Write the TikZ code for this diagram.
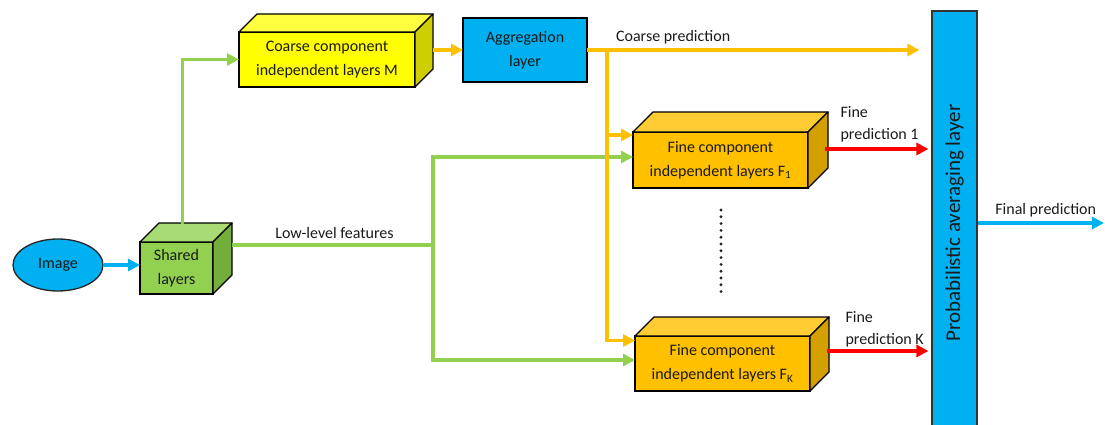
\documentclass[tikz,border=0pt]{standalone}
\usepackage{fontspec}
\setmainfont{Carlito}
\usetikzlibrary{arrows.meta,shapes.geometric}
\definecolor{cblue}{HTML}{00B0F0}
\definecolor{cgreen}{HTML}{92D050}
\definecolor{cgreentop}{HTML}{A9DB74}
\definecolor{cgreenside}{HTML}{74AE3A}
\definecolor{cyel}{HTML}{FFFF00}
\definecolor{cyeltop}{HTML}{FFFF40}
\definecolor{cyelside}{HTML}{CFCF00}
\definecolor{corange}{HTML}{FFC000}
\definecolor{corangetop}{HTML}{FFCC33}
\definecolor{corangeside}{HTML}{D4A000}
\definecolor{cred}{HTML}{FF0000}
\definecolor{txt}{HTML}{1A1A1A}
\tikzset{
  lbl/.style={font=\fontsize{16}{22}\selectfont, text=txt},
  face/.style={draw=black, line width=1.3pt, outer sep=0pt, inner sep=2pt, align=center,
    font=\fontsize{16}{24}\selectfont, text=txt},
  conn/.style={line width=3.2pt, -{Triangle[length=12pt,width=12pt]}},
  plainline/.style={line width=3.2pt},
}
\newcommand\cubesides[4]{%
  \filldraw[fill=#3, draw=black, line width=1.3pt, line join=round]
    (#1.north west) -- ([shift={(#2,-#2)}]#1.north west) -- ([shift={(#2,-#2)}]#1.north east) -- (#1.north east) -- cycle;
  \filldraw[fill=#4, draw=black, line width=1.3pt, line join=round]
    (#1.north east) -- ([shift={(#2,-#2)}]#1.north east) -- ([shift={(#2,-#2)}]#1.south east) -- (#1.south east) -- cycle;
}
\begin{document}
\begin{tikzpicture}[x=1pt,y=-1pt]
\useasboundingbox (0,0) rectangle (1105,425);

% nodes
\node[ellipse, draw=black!85, line width=1.3pt, fill=cblue, minimum width=90pt, minimum height=52pt,
      inner sep=0pt, font=\fontsize{16}{20}\selectfont, text=txt] (img) at (58,265) {Image};

\node[face, fill=cgreen, minimum width=73pt, minimum height=52pt] (shared) at (176.5,268) {Shared\\layers};
\cubesides{shared}{19}{cgreentop}{cgreenside}

\node[face, fill=cyel, minimum width=176pt, minimum height=55pt] (coarse) at (327,59.5) {Coarse component\\independent layers M};
\cubesides{coarse}{18}{cyeltop}{cyelside}

\node[face, fill=cblue, minimum width=124pt, minimum height=64pt] (agg) at (525,50) {Aggregation\\layer};

\node[face, fill=corange, minimum width=175pt, minimum height=56pt] (f1) at (720.5,160) {Fine component\\independent layers F\textsubscript{1}};
\cubesides{f1}{20}{corangetop}{corangeside}

\node[face, fill=corange, minimum width=175pt, minimum height=55pt] (fk) at (722.5,363.5) {Fine component\\independent layers F\textsubscript{K}};
\cubesides{fk}{19}{corangetop}{corangeside}

\node[draw=black!80, line width=1.1pt, fill=cblue, rotate=90, minimum width=424pt, minimum height=45pt,
      inner sep=0pt, font=\fontsize{21}{24}\selectfont, text=txt] (prob) at (954.5,223) {Probabilistic averaging layer};

% helper coordinates
\coordinate (sharedtop) at ([shift={(6,-18)}]shared.north);
\coordinate (sharedside) at ([shift={(19,-23)}]shared.east);
\coordinate (lowsplit) at (433,245);
\coordinate (coarseback) at ([xshift=18pt]coarse.east);
\coordinate (osplit) at (607,50);
\coordinate (f1out) at ([shift={(17,-11)}]f1.east);
\coordinate (fkout) at ([shift={(17,-12.5)}]fk.east);
\coordinate (dotstop) at (721,210);
\coordinate (dotsbot) at (721,298);

% connectors
\draw[conn, color=cblue] (img.east) -- (img.east -| shared.west);

\draw[conn, color=cgreen] (sharedtop) |- (coarse.west);
\draw[plainline, color=cgreen] (sharedside) -- node[lbl, above=1pt, pos=0.51] (lowlbl) {Low-level features} (lowsplit);
\draw[conn, color=cgreen] (lowsplit) |- ([shift={(0,-3)}]f1.west);
\draw[conn, color=cgreen] (lowsplit) |- ([shift={(0,-3.5)}]fk.west);

\draw[conn, color=corange] (coarseback |- agg.west) -- (agg.west);
\draw[conn, color=corange, shorten >=12pt] (agg.east) -- (agg.east -| prob.north)
   node[lbl, pos=0.25, above=1pt] (coarselbl) {Coarse prediction};
\draw[conn, color=corange] (osplit) |- ([shift={(0,-25)}]f1.west);
\draw[conn, color=corange] (osplit) |- ([shift={(0,-23)}]fk.west);

\draw[conn, color=cred, shorten >=3pt] (f1out) -- (f1out -| prob.north);
\draw[conn, color=cred, shorten >=3pt] (fkout) -- (fkout -| prob.north);

\node[lbl, anchor=west, align=left] (f1lbl) at (837,124) {Fine\\prediction 1};
\node[lbl, anchor=west, align=left] (fklbl) at (842,329) {Fine\\prediction K};

\draw[conn, color=cblue, shorten >=1pt] (prob.south |- 0,223) coordinate (pout) -- (1105,223) coordinate (fout)
   node[lbl, pos=0.535, above=1pt] (finallbl) {Final prediction};

\draw[line width=3.2pt, line cap=round, dash pattern=on 0pt off 6.8pt, color=black!85] (dotstop) -- (dotsbot);
\end{tikzpicture}
\end{document}
